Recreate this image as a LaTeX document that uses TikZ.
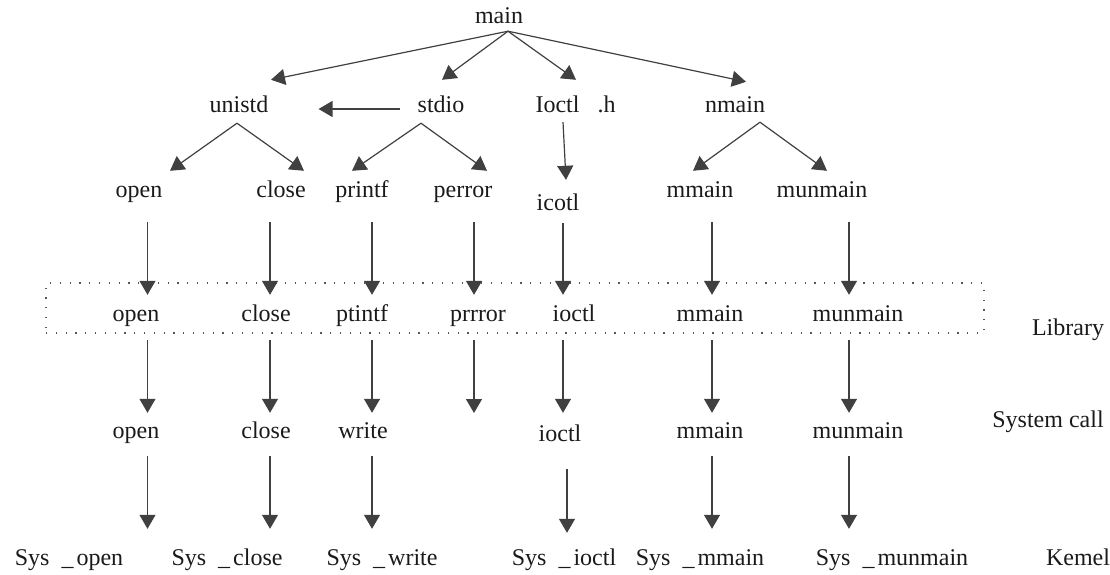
\documentclass[tikz,border=0pt]{standalone}
\usepackage{fontspec}
\setmainfont{Liberation Serif}
\usetikzlibrary{arrows.meta,calc}
\definecolor{ln}{HTML}{404040}
\definecolor{tx}{HTML}{1A1A1A}
\definecolor{dotc}{HTML}{555555}
\newcommand\sysx[1]{Sys\hspace{12pt}\_\hspace{3pt}#1}
\begin{document}
\begin{tikzpicture}[x=1pt,y=-1pt,
  lbl/.style={anchor=base, inner sep=0pt, text height=16pt, text depth=5pt,
              font=\fontsize{24}{28}\selectfont, text=tx},
  arr/.style={draw=ln, line width=1.2pt, -{Triangle[width=16pt,length=14pt,fill=ln]}},
  libbox/.style={draw=dotc, line width=1.2pt, dash pattern=on 1.2pt off 8.6pt,
                 inner sep=0pt, minimum width=938pt, minimum height=50pt},
  d1/.style={arr, shorten <=20pt, shorten >=10pt},
  d2/.style={arr, shorten <=14pt, shorten >=9pt},
  d3/.style={arr, shorten <=13pt, shorten >=20pt}]
\useasboundingbox (0,0) rectangle (1110,575);

% column coordinates
\coordinate (cA) at (147.5,0);
\coordinate (cB) at (270,0);
\coordinate (cC) at (372,0);
\coordinate (cD) at (474,0);
\coordinate (cE) at (563,0);
\coordinate (cE2) at (567,0);
\coordinate (cF) at (712,0);
\coordinate (cG) at (849,0);

% library box
\node[libbox] (lib) at (515,308) {};

% row 1 and 2
\node[lbl] (main) at (499,24) {main};
\node[lbl] (unistd) at (239,113) {unistd};
\node[lbl] (stdio) at (441,113) {stdio};
\node[lbl] (ioctlh) at (575.5,113) {Ioctl\hspace{18pt}.h};
\node[lbl] (nmain) at (735,113) {nmain};

% row 3
\node[lbl] (open1) at (139,197) {open};
\node[lbl] (close1) at (281,197) {close};
\node[lbl] (printf1) at (362,197) {printf};
\node[lbl] (perror1) at (463,197) {perror};
\node[lbl] (icotl) at (558,210) {icotl};
\node[lbl] (mmain1) at (700,197) {mmain};
\node[lbl] (munmain1) at (822,197) {munmain};

% library row
\node[lbl] (open2) at (136,321) {open};
\node[lbl] (close2) at (266,321) {close};
\node[lbl] (ptintf) at (362,321) {ptintf};
\node[lbl] (prrror) at (478,321) {prrror};
\node[lbl] (ioctl2) at (574,321) {ioctl};
\node[lbl] (mmain2) at (710,321) {mmain};
\node[lbl] (munmain2) at (858,321) {munmain};
\node[lbl] (library) at (1068,335) {Library};

% system call row
\node[lbl] (open3) at (136,438) {open};
\node[lbl] (close3) at (266,438) {close};
\node[lbl] (write3) at (363,438) {write};
\node[lbl] (ioctl3) at (560,441) {ioctl};
\node[lbl] (mmain3) at (710,438) {mmain};
\node[lbl] (munmain3) at (858,438) {munmain};
\node[lbl] (syscall) at (1048,427) {System call};

% kernel row
\node[lbl] (kopen) at (69,565) {\sysx{open}};
\node[lbl] (kclose) at (227,565) {\sysx{close}};
\node[lbl] (kwrite) at (382,565) {\sysx{write}};
\node[lbl] (kioctl) at (564,565) {\sysx{ioctl}};
\node[lbl] (kmmain) at (700,565) {\sysx{mmain}};
\node[lbl] (kmunmain) at (892,565) {\sysx{munmain}};
\node[lbl] (kernel) at (1078,565) {Kemel};

\coordinate (prrEnd) at (474,413);

% top tree arrows
\coordinate (mo) at ($(main.south)+(9,2)$);
\draw[arr] (mo) -- ($(unistd.north)+(32,-17)$);
\draw[arr] (mo) -- ($(stdio.north)+(1,-17)$);
\draw[arr] (mo) -- ($(ioctlh.north)+(0.5,-17)$);
\draw[arr] (mo) -- ($(nmain.north)+(11,-15)$);
\draw[arr] ($(stdio.west)+(-17,1.5)$) -- ($(unistd.east)+(50,1.5)$);

\coordinate (uo) at ($(unistd.south)+(-2,5)$);
\draw[arr] (uo) -- ($(open1.north)+(31,-10)$);
\draw[arr] (uo) -- ($(close1.north)+(23,-10)$);
\coordinate (so) at ($(stdio.south)+(-20,5)$);
\draw[arr] (so) -- ($(printf1.north)+(-10,-10)$);
\draw[arr] (so) -- ($(perror1.north)+(24,-10)$);
\coordinate (no) at ($(nmain.south)+(25,4)$);
\draw[arr] (no) -- ($(mmain1.north)+(-7,-10)$);
\draw[arr] (no) -- ($(munmain1.north)+(5,-10)$);
\draw[arr] ($(ioctlh.south)+(-12.5,4)$) -- ($(icotl.north)+(8,-14)$);

% row 3 -> library
\draw[d1] (open1.south -| cA) -- (open2.north -| cA);
\draw[d1] (close1.south -| cB) -- (close2.north -| cB);
\draw[d1] (printf1.south -| cC) -- (ptintf.north -| cC);
\draw[d1] (perror1.south -| cD) -- (prrror.north -| cD);
\draw[d1, shorten <=8pt] (icotl.south -| cE) -- (ioctl2.north -| cE);
\draw[d1] (mmain1.south -| cF) -- (mmain2.north -| cF);
\draw[d1] (munmain1.south -| cG) -- (munmain2.north -| cG);

% library -> system call
\draw[d2] (open2.south -| cA) -- (open3.north -| cA);
\draw[d2] (close2.south -| cB) -- (close3.north -| cB);
\draw[d2] (ptintf.south -| cC) -- (write3.north -| cC);
\draw[d2, shorten >=0pt] (prrror.south -| cD) -- (prrEnd);
\draw[d2, shorten >=12pt] (ioctl2.south -| cE) -- (ioctl3.north -| cE);
\draw[d2] (mmain2.south -| cF) -- (mmain3.north -| cF);
\draw[d2] (munmain2.south -| cG) -- (munmain3.north -| cG);

% system call -> kernel
\draw[d3] (open3.south -| cA) -- (kopen.north -| cA);
\draw[d3] (close3.south -| cB) -- (kclose.north -| cB);
\draw[d3] (write3.south -| cC) -- (kwrite.north -| cC);
\draw[d3, shorten <=23pt, shorten >=16pt] (ioctl3.south -| cE2) -- (kioctl.north -| cE2);
\draw[d3] (mmain3.south -| cF) -- (kmmain.north -| cF);
\draw[d3] (munmain3.south -| cG) -- (kmunmain.north -| cG);
\end{tikzpicture}
\end{document}
